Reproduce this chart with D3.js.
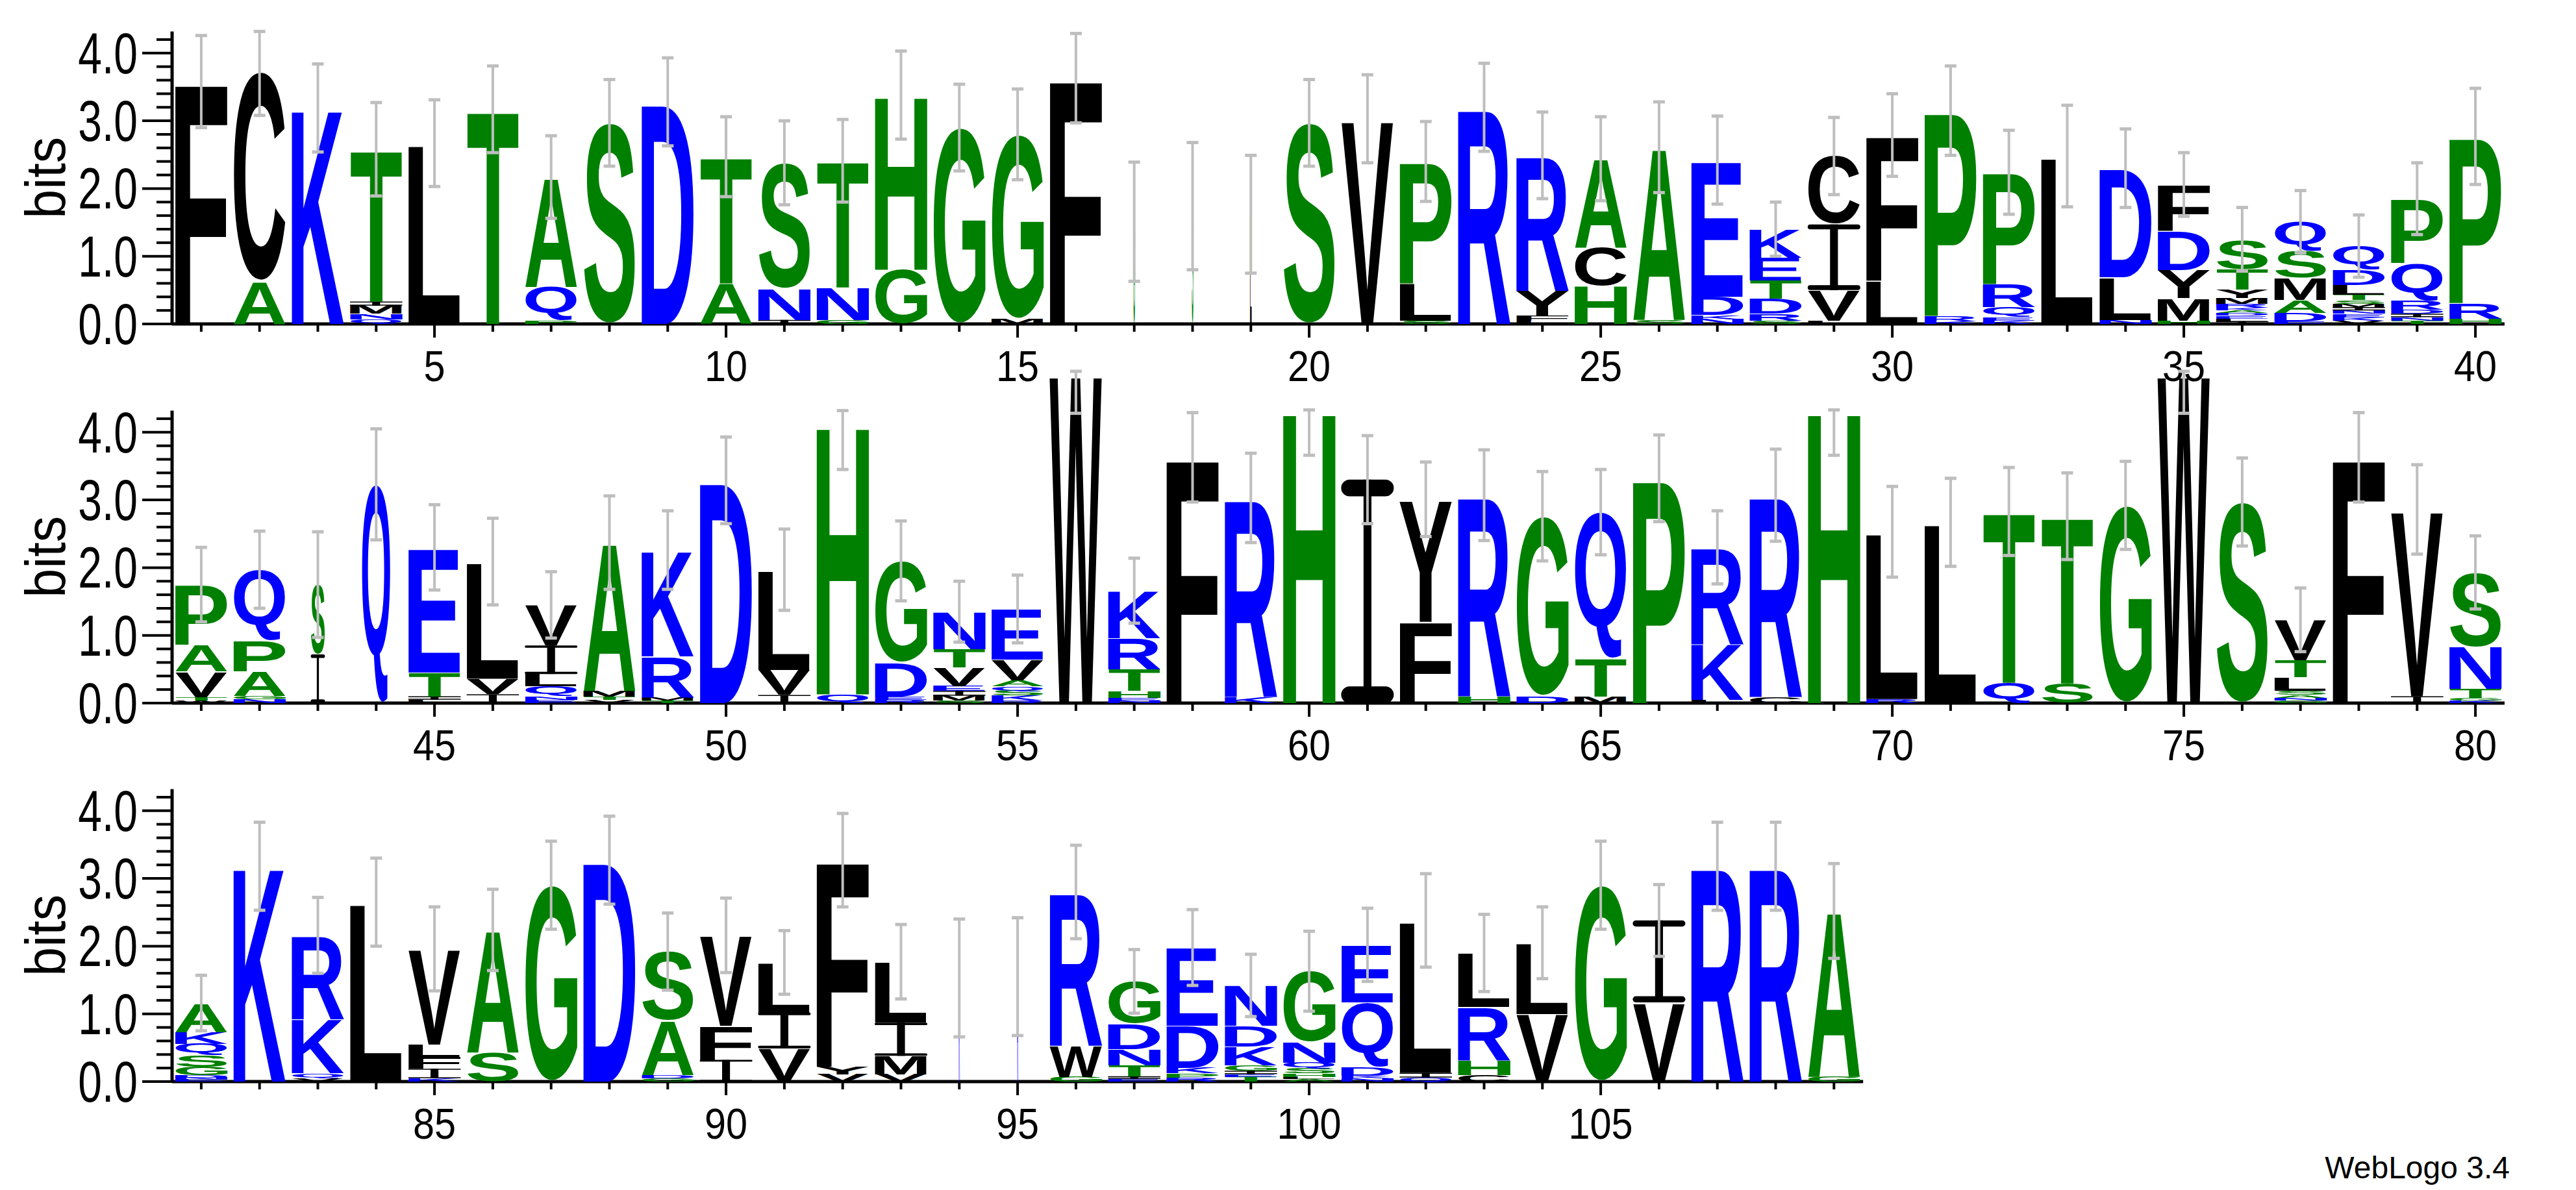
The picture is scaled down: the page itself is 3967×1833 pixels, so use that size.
<!DOCTYPE html>
<html><head><meta charset="utf-8">
<script src="https://cdn.jsdelivr.net/npm/d3@7"></script>
<style>body{margin:0;background:#fff}</style>
</head><body>
<svg id="c" width="3967" height="1833"></svg>
<script>
// Stacks listed bottom-to-top: [letter, bits]
const row1Stacks = [
 [["F",3.58]],[["A",.63],["C",3.1]],[["K",3.19]],[["Q",.07],["N",.08],["M",.12],["I",.06],["T",2.25]],
 [["L",2.67]],[["T",3.17]],[["P",.05],["Q",.5],["A",1.62]],[["S",2.97]],[["D",3.28]],
 [["A",.6],["T",1.87]],[["I",.06],["N",.46],["S",1.86]],[["G",.06],["N",.48],["T",1.87]],
 [["G",.8],["H",2.58]],[["G",2.9]],[["M",.07],["G",2.73]],[["F",3.63]],
 [["G",1.51]],[["S",1.74]],[["L",1.62]],[["S",2.97]],[["V",3.03]],
 [["S",.05],["L",.55],["P",1.8]],[["R",3.2]],[["L",.05],["F",.07],["Y",.37],["R",2.0]],
 [["H",.56],["C",.57],["A",1.31]],[["S",.06],["A",2.55]],[["N",.07],["K",.06],["D",.27],["E",2.02]],
 [["S",.05],["R",.1],["D",.22],["T",.27],["E",.34],["K",.42]],
 [["L",.05],["V",.45],["I",.97],["C",1.01]],[["L",.64],["F",2.15]],[["K",.04],["R",.08],["P",3.03]],
 [["K",.05],["E",.05],["Q",.15],["R",.34],["P",1.65]],[["L",2.48]],[["N",.06],["L",.63],["D",1.61]],
 [["H",.05],["M",.33],["Y",.42],["D",.58],["F",.68]],
 [["I",.04],["L",.04],["E",.04],["D",.04],["A",.04],["K",.04],["R",.06],["M",.08],["Y",.13],["T",.3],["S",.44]],
 [["E",.04],["D",.12],["A",.19],["M",.33],["S",.39],["Q",.44]],
 [["V",.05],["K",.05],["E",.05],["N",.05],["I",.05],["M",.05],["S",.05],["T",.08],["L",.15],["D",.22],["Q",.35]],
 [["T",.05],["N",.05],["I",.05],["D",.06],["R",.14],["Q",.55],["P",.95]],[["H",.08],["R",.23],["P",2.46]]
];
const row2Stacks = [
 [["W",.04],["T",.05],["V",.38],["A",.39],["P",.89]],[["N",.06],["G",.05],["A",.36],["P",.45],["Q",1.05]],
 [["I",.72],["S",1.03]],[["Q",3.23]],[["L",.05],["I",.05],["T",.35],["E",1.85]],[["I",.13],["V",.23],["L",1.73]],
 [["E",.05],["N",.05],["Q",.15],["L",.18],["I",.42],["V",.6]],[["V",.05],["T",.05],["M",.08],["A",2.19]],
 [["T",.04],["M",.05],["R",.6],["K",1.57]],[["D",3.29]],[["I",.12],["V",.37],["L",1.48]],[["Q",.13],["H",3.99]],
 [["R",.05],["E",.05],["D",.5],["G",1.5]],[["S",.04],["M",.07],["I",.07],["E",.07],["V",.28],["T",.27],["N",.55]],
 [["R",.04],["K",.07],["S",.07],["Q",.07],["A",.09],["V",.3],["E",.75]],[["W",4.9]],
 [["N",.04],["E",.04],["H",.1],["T",.32],["R",.46],["K",.7]],[["F",3.63]],[["K",.09],["R",2.94]],[["H",4.33]],
 [["I",3.3]],[["F",1.2],["Y",1.81]],[["H",.1],["R",2.97]],[["D",.1],["G",2.66]],[["M",.1],["T",.56],["Q",2.16]],
 [["P",3.32]],[["L",.05],["K",.82],["R",1.43]],[["C",.09],["R",2.98]],[["H",4.33]],[["R",.06],["L",2.47]],
 [["L",2.67]],[["Q",.3],["T",2.53]],[["S",.29],["T",2.47]],[["G",2.92]],[["W",4.9]],[["S",2.97]],
 [["G",.04],["N",.04],["A",.04],["S",.06],["L",.2],["T",.25],["V",.6]],[["F",3.63]],[["I",.1],["V",2.76]],
 [["K",.04],["G",.04],["T",.13],["N",.62],["S",1.1]]
];
const row3Stacks = [
 [["E",.03],["N",.03],["D",.03],["G",.13],["S",.17],["Q",.17],["K",.17],["A",.43]],[["K",3.18]],
 [["V",.05],["Q",.07],["K",.8],["R",1.24]],[["L",2.65]],[["K",.05],["I",.14],["F",.17],["L",.19],["V",1.41]],
 [["S",.43],["A",1.81]],[["G",2.9]],[["D",3.27]],[["G",.05],["D",.05],["A",.8],["S",1.02]],
 [["I",.32],["F",.5],["V",1.34]],[["V",.49],["I",.53],["L",.74]],[["V",.11],["Y",.11],["F",3.05]],
 [["V",.11],["M",.27],["I",.49],["L",.9]],[["K",1.53]],[["R",1.55]],[["G",.07],["W",.46],["R",2.27]],
 [["E",.04],["I",.04],["T",.16],["N",.24],["D",.38],["G",.62]],[["R",.06],["P",.06],["K",.08],["D",.62],["E",1.16]],
 [["T",.07],["E",.04],["I",.05],["G",.08],["K",.28],["D",.3],["N",.6]],
 [["A",.04],["L",.03],["H",.05],["S",.07],["Q",.09],["N",.3],["G",1.05]],
 [["N",.05],["K",.04],["D",.13],["Q",.95],["E",.85]],[["Q",.06],["I",.07],["L",2.25]],
 [["C",.1],["H",.21],["R",.79],["L",.8]],[["V",1.0],["L",1.05]],[["G",2.9]],[["V",1.17],["I",1.21]],
 [["R",3.18]],[["R",3.18]],[["G",.07],["A",2.45]]
];
const row1Err = [.68,.65,.65,.69,.64,.64,.61,.64,.65,.59,.62,.61,.65,.64,.67,.66,.88,.94,.87,.64,.65,.59,.65,.64,.62,.67,.65,.4,.57,.61,.66,.62,.75,.58,.47,.47,.46,.46,.53,.71];
const row2Err = [.55,.57,.78,.82,.63,.64,.49,.69,.58,.64,.6,.67,.59,.45,.5,.62,.48,.66,.66,.67,.65,.55,.67,.66,.63,.64,.54,.68,.67,.67,.65,.65,.64,.65,.62,.65,.47,.66,.66,.54];
const row3Err = [.41,.65,.56,.65,.62,.6,.65,.65,.57,.55,.47,.69,.55,.87,.87,.69,.47,.56,.46,.59,.54,.69,.57,.53,.65,.53,.65,.65,.7];
const narrowCols = {17:.03,18:.03,19:.03,43:.27,44:.55,94:.02,95:.02};
const rowStarts = [1,41,81];
const yTicks = [0,1,2,3,4];
const colorOf = {F:"#000",C:"#000",L:"#000",V:"#000",I:"#000",M:"#000",W:"#000",Y:"#000",
 K:"#0000ff",R:"#0000ff",D:"#0000ff",E:"#0000ff",Q:"#0000ff",N:"#0000ff",
 T:"#008000",S:"#008000",A:"#008000",G:"#008000",H:"#008000",P:"#008000"};

function draw(){
 const svg = d3.select("#c");
 svg.append("rect").attr("width",3967).attr("height",1833).attr("fill","#fff");
 const ctx = document.createElement("canvas").getContext("2d");
 const FS = 400; ctx.font = "bold "+FS+"px 'Liberation Sans'";
 const met = {};
 function m(l){ if(!met[l]){const t=ctx.measureText(l); met[l]={L:t.actualBoundingBoxLeft,R:t.actualBoundingBoxRight,A:t.actualBoundingBoxAscent,D:t.actualBoundingBoxDescent};} return met[l]; }
 const colW = 89.8, x0 = 265, bitPx = 104.3, ymax = 4.32;
 const bases = [499,1083,1666];
 const rows = [[row1Stacks,row1Err],[row2Stacks,row2Err],[row3Stacks,row3Err]];
 rows.forEach(([stacks,errs],ri)=>{
  const start = rowStarts[ri], n = stacks.length;
  const x = d3.scaleLinear().domain([start-0.5,start+n-0.5]).range([x0,x0+n*colW]);
  const y = d3.scaleLinear().domain([0,ymax]).range([bases[ri],bases[ri]-ymax*bitPx]);
  const g = svg.append("g");
  g.append("line").attr("x1",x0).attr("x2",x0).attr("y1",y(ymax)).attr("y2",y(0)).attr("stroke","#000").attr("stroke-width",5);
  d3.range(0,4.31,0.2).forEach(v=>{
   const maj = Math.abs(v-Math.round(v))<1e-6;
   g.append("line").attr("x1",x0-(maj?46:24)).attr("x2",x0).attr("y1",y(v)).attr("y2",y(v)).attr("stroke","#000").attr("stroke-width",4);
  });
  yTicks.forEach(v=>{
   g.append("text").attr("transform",`translate(212,${y(v)+31}) scale(0.75,1)`).attr("text-anchor","end")
    .attr("font-family","Liberation Sans").attr("font-size",88).text(v.toFixed(1));
  });
  g.append("text").attr("transform",`translate(100,${y(ymax/2)}) rotate(-90) scale(0.92,1)`).attr("text-anchor","middle")
   .attr("font-family","Liberation Sans").attr("font-size",88).text("bits");
  g.append("line").attr("x1",x0).attr("x2",x(start+n-0.5)).attr("y1",y(0)).attr("y2",y(0)).attr("stroke","#000").attr("stroke-width",5);
  d3.range(start,start+n).forEach(p=>{
   const maj = p%5===0;
   g.append("line").attr("x1",x(p)).attr("x2",x(p)).attr("y1",y(0)).attr("y2",y(0)+(maj?21:12)).attr("stroke","#000").attr("stroke-width",4);
   if(maj) g.append("text").attr("transform",`translate(${x(p)},${y(0)+88}) scale(0.9,1)`).attr("text-anchor","middle")
     .attr("font-family","Liberation Sans").attr("font-size",66).text(p);
  });
 });
 rows.forEach(([stacks,errs],ri)=>{
  const start = rowStarts[ri], n = stacks.length;
  const x = d3.scaleLinear().domain([start-0.5,start+n-0.5]).range([x0,x0+n*colW]);
  const y = d3.scaleLinear().domain([0,ymax]).range([bases[ri],bases[ri]-ymax*bitPx]);
  const g = svg.append("g");
  stacks.forEach((st,i)=>{
   const p = start+i, wf = narrowCols[p]||1, w = 81*wf, cx = x(p);
   let acc = 0;
   st.forEach(([l,h])=>{
    const top = y(acc+h), hp = y(acc)-y(acc+h), lx = cx-w/2;
    if(l==="I"){
     // serif I: top bar, stem, bottom bar
     const bt = Math.max(1.5, hp*0.075), sw = Math.max(1, w*0.15);
     const gI = g.append("g").attr("fill",colorOf[l]);
     gI.append("rect").attr("x",lx).attr("y",top).attr("width",w).attr("height",bt).attr("rx",Math.min(bt/2,w/2));
     gI.append("rect").attr("x",lx).attr("y",top+hp-bt).attr("width",w).attr("height",bt).attr("rx",Math.min(bt/2,w/2));
     gI.append("rect").attr("x",cx-sw/2).attr("y",top).attr("width",sw).attr("height",hp);
    } else {
     const t = m(l);
     const sx = w/(t.L+t.R), sy = hp/(t.A+t.D);
     g.append("text").attr("transform",`translate(${lx},${top}) scale(${sx},${sy}) translate(${t.L},${t.A})`)
      .attr("font-family","Liberation Sans").attr("font-weight","bold").attr("font-size",FS)
      .attr("fill",colorOf[l]).text(l);
    }
    acc += h;
   });
   const e = errs[i];
   const lo = acc-e, hi = Math.min(acc+e, Math.max(ymax,acc));
   const eb = g.append("g").attr("stroke","#bebebe").attr("stroke-width",4);
   eb.append("line").attr("x1",cx).attr("x2",cx).attr("y1",y(lo)).attr("y2",y(hi));
   [lo,hi].forEach(v=>eb.append("line").attr("x1",cx-9).attr("x2",cx+9).attr("y1",y(v)).attr("y2",y(v)).attr("stroke-width",5));
  });
 });
 svg.append("text").attr("x",3865).attr("y",1815).attr("text-anchor","end").attr("font-family","Liberation Sans")
  .attr("font-size",48).text("WebLogo 3.4");
}
(document.fonts && document.fonts.ready ? document.fonts.ready : Promise.resolve()).then(draw);
</script>
</body></html>
